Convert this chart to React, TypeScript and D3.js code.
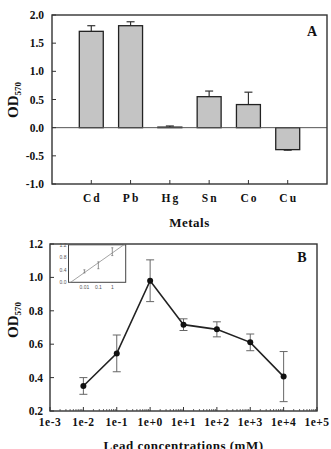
import React from "react";
import * as d3 from "d3";

// Panel A: growth with different metals
const metals = ["Cd", "Pb", "Hg", "Sn", "Co", "Cu"];
const metalOD = [1.71, 1.81, 0.01, 0.55, 0.41, -0.39];
const metalErr = [0.1, 0.07, 0.02, 0.1, 0.22, 0.01];
const metalTicks = [2.0, 1.5, 1.0, 0.5, 0.0, -0.5, -1.0];

// Panel B: growth vs lead concentration
const leadConc = [1e-2, 1e-1, 1e0, 1e1, 1e2, 1e3, 1e4];
const leadOD = [0.35, 0.545, 0.98, 0.717, 0.689, 0.611, 0.406];
const leadErr = [0.05, 0.11, 0.125, 0.035, 0.045, 0.05, 0.15];
const leadTicksY = [1.2, 1.0, 0.8, 0.6, 0.4, 0.2];
const decades = [1e-3, 1e-2, 1e-1, 1e0, 1e1, 1e2, 1e3, 1e4, 1e5];
const decadeLabels = ["1e-3", "1e-2", "1e-1", "1e+0", "1e+1", "1e+2", "1e+3", "1e+4", "1e+5"];

// Inset: low concentration range
const insetTicksY = [0.0, 0.4, 0.8, 1.2];
const insetTicksX = [0.01, 0.1, 1];
const insetLabelsX = ["0.01", "0.1", "1"];

const serif = "'Liberation Serif', 'Times New Roman', serif";
const sans = "'Liberation Sans', Arial, sans-serif";

const YLabel = ({ x, y }: { x: number; y: number }) => (
  <text
    transform={`translate(${x},${y}) rotate(-90)`}
    textAnchor="middle"
    fontFamily={serif}
    fontWeight="bold"
    fontSize={15}
    fill="#111"
  >
    OD
    <tspan fontSize={9} dy={3}>570</tspan>
  </text>
);

const PanelA = () => {
  const left = 52, right = 327, top = 15, bottom = 184;
  const x = d3.scalePoint<string>().domain(metals).range([left, right]).padding(1);
  const y = d3.scaleLinear().domain([-1, 2]).range([bottom, top]);
  const bw = x.step() * 0.61;
  const cap = 4;
  return (
    <g>
      {metals.map((m, i) => {
        const v = metalOD[i];
        const cx = x(m)!;
        const tipV = v >= 0 ? v + metalErr[i] : v - metalErr[i];
        return (
          <g key={m}>
            <line x1={cx} x2={cx} y1={y(v)} y2={y(tipV)} stroke="#333" strokeWidth={1.2} />
            <line x1={cx - cap} x2={cx + cap} y1={y(tipV)} y2={y(tipV)} stroke="#333" strokeWidth={1.2} />
            <rect
              x={cx - bw / 2}
              width={bw}
              y={y(Math.max(0, v))}
              height={Math.abs(y(v) - y(0))}
              fill="#c4c4c4"
              stroke="#222"
              strokeWidth={1.3}
            />
          </g>
        );
      })}
      <line x1={left} x2={right} y1={y(0)} y2={y(0)} stroke="#555" strokeWidth={1} />
      <rect x={left} y={top} width={right - left} height={bottom - top} fill="none" stroke="#333" strokeWidth={1.4} />
      {metalTicks.map((t) => (
        <g key={t}>
          <line x1={left} x2={left + 4} y1={y(t)} y2={y(t)} stroke="#333" />
          <text
            x={left - 8}
            y={y(t)}
            dy="0.35em"
            textAnchor="end"
            fontFamily={serif}
            fontWeight="bold"
            fontSize={11.5}
            fill="#111"
          >
            {t.toFixed(1)}
          </text>
        </g>
      ))}
      {metals.map((m) => (
        <g key={m}>
          <line x1={x(m)} x2={x(m)} y1={bottom} y2={bottom - 4} stroke="#333" />
          <text
            x={x(m) + 1}
            y={202}
            textAnchor="middle"
            fontFamily={serif}
            fontWeight="bold"
            fontSize={11.5}
            letterSpacing={2}
            fill="#111"
          >
            {m}
          </text>
        </g>
      ))}
      <text x={(left + right) / 2} y={226.5} textAnchor="middle" fontFamily={serif} fontWeight="bold" fontSize={13} letterSpacing={0.5} fill="#111">
        Metals
      </text>
      <text x={312} y={36} textAnchor="middle" fontFamily={serif} fontWeight="bold" fontSize={14} fill="#111">
        A
      </text>
      <YLabel x={18} y={100} />
    </g>
  );
};

const Inset = () => {
  const left = 68.5, right = 125.7, top = 244.8, bottom = 282.3;
  const x = d3.scaleLog().domain([Math.pow(10, -3.14), Math.pow(10, 0.96)]).range([left, right]);
  const y = d3.scaleLinear().domain([0, 1.2]).range([bottom, top]);
  const pts = leadConc.map((c, i) => ({ c, v: leadOD[i], e: leadErr[i] })).filter((d) => d.c <= 1);
  // least-squares fit of OD against log10 concentration
  const lx = pts.map((d) => Math.log10(d.c));
  const mx = d3.mean(lx)!;
  const my = d3.mean(pts, (d) => d.v)!;
  const slope =
    d3.sum(pts, (d, i) => (lx[i] - mx) * (d.v - my)) / d3.sum(lx, (v) => (v - mx) * (v - mx));
  const fit = (c: number) => my + slope * (Math.log10(c) - mx);
  const [d0, d1] = x.domain();
  return (
    <g>
      <rect x={left} y={top} width={right - left} height={bottom - top} fill="#fff" stroke="#444" strokeWidth={1} />
      <clipPath id="insetClip">
        <rect x={left} y={top} width={right - left} height={bottom - top} />
      </clipPath>
      <line
        clipPath="url(#insetClip)"
        x1={x(d0)}
        y1={y(fit(d0))}
        x2={x(d1)}
        y2={y(fit(d1))}
        stroke="#999"
        strokeWidth={0.9}
      />
      {pts.map((d) => (
        <g key={d.c} stroke="#777" strokeWidth={0.8}>
          <line x1={x(d.c)} x2={x(d.c)} y1={y(d.v - d.e)} y2={y(d.v + d.e)} />
          <line x1={x(d.c) - 1} x2={x(d.c) + 1} y1={y(d.v - d.e)} y2={y(d.v - d.e)} />
          <line x1={x(d.c) - 1} x2={x(d.c) + 1} y1={y(d.v + d.e)} y2={y(d.v + d.e)} />
        </g>
      ))}
      {insetTicksY.map((t) => (
        <text key={t} x={left - 2} y={y(t)} dy="0.35em" textAnchor="end" fontFamily={sans} fontSize={5} fill="#555">
          {t.toFixed(1)}
        </text>
      ))}
      {insetTicksX.map((t, i) => (
        <text key={t} x={x(t)} y={bottom + 6.5} textAnchor="middle" fontFamily={sans} fontSize={5} fill="#555">
          {insetLabelsX[i]}
        </text>
      ))}
    </g>
  );
};

const PanelB = () => {
  const left = 50, right = 317, top = 244, bottom = 411;
  const x = d3.scaleLog().domain([1e-3, 1e5]).range([left, right]);
  const y = d3.scaleLinear().domain([0.2, 1.2]).range([bottom, top]);
  const line = d3
    .line<number>()
    .x((_, i) => x(leadConc[i]))
    .y((v) => y(v));
  const minor: number[] = [];
  decades.slice(0, -1).forEach((d) => {
    for (let k = 2; k <= 9; k++) minor.push(d * k);
  });
  const cap = 4;
  return (
    <g>
      <rect x={left} y={top} width={right - left} height={bottom - top} fill="none" stroke="#333" strokeWidth={1.4} />
      {minor.map((m) => (
        <line key={m} x1={x(m)} x2={x(m)} y1={bottom} y2={bottom - 2} stroke="#444" strokeWidth={0.8} />
      ))}
      {decades.map((d, i) => (
        <g key={d}>
          <line x1={x(d)} x2={x(d)} y1={bottom} y2={bottom - 4} stroke="#333" />
          <text
            x={x(d)}
            y={426}
            textAnchor="middle"
            fontFamily={serif}
            fontWeight="bold"
            fontSize={11.5}
            letterSpacing={0.5}
            fill="#111"
          >
            {decadeLabels[i]}
          </text>
        </g>
      ))}
      {leadTicksY.map((t) => (
        <g key={t}>
          <line x1={left} x2={left + 4} y1={y(t)} y2={y(t)} stroke="#333" />
          <text
            x={left - 7}
            y={y(t)}
            dy="0.35em"
            textAnchor="end"
            fontFamily={serif}
            fontWeight="bold"
            fontSize={11.5}
            fill="#111"
          >
            {t.toFixed(1)}
          </text>
        </g>
      ))}
      {leadConc.map((c, i) => {
        const cx = x(c);
        const lo = y(leadOD[i] - leadErr[i]);
        const hi = y(leadOD[i] + leadErr[i]);
        return (
          <g key={c} stroke="#666" strokeWidth={1}>
            <line x1={cx} x2={cx} y1={lo} y2={hi} />
            <line x1={cx - cap} x2={cx + cap} y1={lo} y2={lo} />
            <line x1={cx - cap} x2={cx + cap} y1={hi} y2={hi} />
          </g>
        );
      })}
      <path d={line(leadOD)!} fill="none" stroke="#222" strokeWidth={1.6} />
      {leadConc.map((c, i) => (
        <circle key={c} cx={x(c)} cy={y(leadOD[i])} r={3} fill="#111" />
      ))}
      <Inset />
      <text x={302} y={262} textAnchor="middle" fontFamily={serif} fontWeight="bold" fontSize={14} fill="#111">
        B
      </text>
      <YLabel x={18} y={320} />
      <text x={(left + right) / 2} y={450} textAnchor="middle" fontFamily={serif} fontWeight="bold" fontSize={13} letterSpacing={0.5} fill="#111">
        Lead concentrations (mM)
      </text>
    </g>
  );
};

export default function App() {
  return (
    <svg
      width={331}
      height={449}
      style={{ position: "absolute", left: 0, top: 0, background: "#fff" }}
    >
      <PanelA />
      <PanelB />
    </svg>
  );
}
